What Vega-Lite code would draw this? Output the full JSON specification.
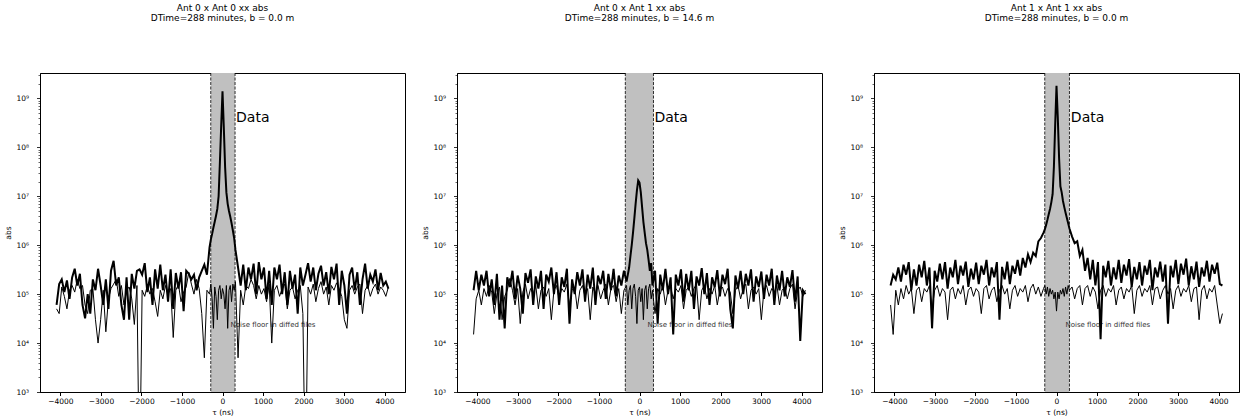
{
"$schema": "https://vega.github.io/schema/vega-lite/v6.json",
"background": "white",
"padding": {"left": 4, "top": 3, "right": 2, "bottom": 2},
"bounds": "flush",
"spacing": 52,
"config": {
  "view": {"stroke": "black", "strokeWidth": 1},
  "font": "DejaVu Sans",
  "axis": {"domainColor": "black", "tickColor": "black", "labelColor": "black", "titleColor": "black", "labelFontSize": 7.5, "titleFontSize": 7.5, "titleFontWeight": "normal", "grid": false, "labelFont": "DejaVu Sans", "titleFont": "DejaVu Sans", "tickSize": 3.5},
  "axisX": {"labelPadding": 2, "titlePadding": 3},
  "axisY": {"labelPadding": 8, "titlePadding": 3},
  "title": {"fontSize": 9, "fontWeight": "normal", "font": "DejaVu Sans", "anchor": "middle", "offset": 50, "lineHeight": 10, "color": "black"}
},
"datasets": {
"p1": [
{"t":-4096,"d":6e4,"n":5e4},{"t":-4032,"d":1.6e5,"n":4e4},{"t":-3968,"d":2e5,"n":1.4e5},{"t":-3904,"d":1.1e5,"n":9e4},{"t":-3840,"d":1.9e5,"n":5e4},{"t":-3776,"d":8e4,"n":1.2e5},{"t":-3712,"d":2.2e5,"n":1.5e5},{"t":-3648,"d":3.3e5,"n":1.1e5},{"t":-3584,"d":1.5e5,"n":2e5},{"t":-3520,"d":2.6e5,"n":1.3e5},{"t":-3456,"d":6e4,"n":1.5e5},{"t":-3392,"d":3.2e4,"n":6e4},{"t":-3328,"d":1e5,"n":4e4},{"t":-3264,"d":4e4,"n":1.2e5},{"t":-3200,"d":2e5,"n":1.3e5},{"t":-3136,"d":1.2e5,"n":3e4},{"t":-3072,"d":3.3e5,"n":1e4},{"t":-3008,"d":1.5e5,"n":3e4},{"t":-2944,"d":6e4,"n":1.2e5},{"t":-2880,"d":2e5,"n":1.7e4},{"t":-2816,"d":5e4,"n":8e4},{"t":-2752,"d":3e5,"n":1.3e5},{"t":-2688,"d":4.8e5,"n":1.6e5},{"t":-2624,"d":1.5e5,"n":2e5},{"t":-2560,"d":2.2e5,"n":9e4},{"t":-2496,"d":6e4,"n":1.5e5},{"t":-2432,"d":3e4,"n":6e4},{"t":-2368,"d":2.2e5,"n":1.2e5},{"t":-2304,"d":3e4,"n":1.4e5},{"t":-2240,"d":2.6e5,"n":8e4},{"t":-2176,"d":1.3e5,"n":2.4e4},{"t":-2112,"d":3e5,"n":1.5e5},{"t":-2048,"d":3.2e5,"n":10},{"t":-1984,"d":2.5e5,"n":1.2e5},{"t":-1920,"d":4.3e5,"n":9e4},{"t":-1856,"d":1.1e5,"n":1.5e5},{"t":-1792,"d":2.2e5,"n":1e5},{"t":-1728,"d":6e4,"n":1.3e5},{"t":-1664,"d":3.2e5,"n":7e4},{"t":-1600,"d":1.3e5,"n":3.5e4},{"t":-1536,"d":4e5,"n":1.2e5},{"t":-1472,"d":1.2e5,"n":8e4},{"t":-1408,"d":2.5e5,"n":1.5e5},{"t":-1344,"d":7e4,"n":1e5},{"t":-1280,"d":3.2e5,"n":1.3e5},{"t":-1216,"d":5e4,"n":1.3e4},{"t":-1152,"d":2.7e5,"n":1.2e5},{"t":-1088,"d":1.3e5,"n":1.6e5},{"t":-1024,"d":2.8e5,"n":7e4},{"t":-960,"d":4.5e4,"n":1.1e5},{"t":-896,"d":3e5,"n":1.4e5},{"t":-832,"d":2.6e5,"n":2.8e5},{"t":-768,"d":2e5,"n":1.6e5},{"t":-704,"d":2.5e5,"n":1e5},{"t":-640,"d":1.2e5,"n":2e5},{"t":-576,"d":2.2e5,"n":1.3e5},{"t":-512,"d":3e5,"n":4e4},{"t":-448,"d":4e5,"n":5e3},{"t":-384,"d":2.5e5,"n":1.2e5},
{"t":-320,"d":9e5,"n":1e5},{"t":-288,"d":1.3e6,"n":1.6e5},{"t":-256,"d":1.7e6,"n":8e4},{"t":-224,"d":2.3e6,"n":2e4},{"t":-192,"d":3e6,"n":1.4e5},{"t":-160,"d":4e6,"n":9e4},{"t":-128,"d":5.5e6,"n":3e4},{"t":-96,"d":1e7,"n":1.2e5},{"t":-64,"d":5e7,"n":1.5e5},{"t":-32,"d":2.8e8,"n":8e4},{"t":0,"d":1.4e9,"n":1.3e5},{"t":32,"d":2.6e8,"n":1e5},{"t":64,"d":4e7,"n":5e4},{"t":96,"d":1.2e7,"n":1.5e5},{"t":128,"d":7e6,"n":2e4},{"t":160,"d":5e6,"n":1.2e5},{"t":192,"d":3.8e6,"n":1.5e5},{"t":224,"d":2.8e6,"n":7e4},{"t":256,"d":2e6,"n":1.6e5},{"t":288,"d":1.4e6,"n":1.2e5},{"t":320,"d":8e5,"n":1.8e5},
{"t":384,"d":3.5e5,"n":5e3},{"t":448,"d":1.5e5,"n":1.2e5},{"t":512,"d":4e5,"n":6e4},{"t":576,"d":1.2e5,"n":1.5e5},{"t":640,"d":3.5e5,"n":1.3e5},{"t":704,"d":2e5,"n":2e5},{"t":768,"d":4.2e5,"n":1.5e5},{"t":832,"d":1e5,"n":8e4},{"t":896,"d":4.5e5,"n":1.5e5},{"t":960,"d":2e5,"n":1e5},{"t":1024,"d":3.5e5,"n":1.3e5},{"t":1088,"d":8e4,"n":7e4},{"t":1152,"d":3e5,"n":1.6e5},{"t":1216,"d":6e4,"n":1e4},{"t":1280,"d":3.5e5,"n":1.2e5},{"t":1344,"d":2e5,"n":1.5e5},{"t":1408,"d":4e5,"n":9e4},{"t":1472,"d":1e5,"n":1.3e5},{"t":1536,"d":2.8e5,"n":1.6e5},{"t":1600,"d":6e4,"n":5e4},{"t":1664,"d":3e5,"n":1.2e5},{"t":1728,"d":1.3e5,"n":1.4e5},{"t":1792,"d":2.5e5,"n":8e4},{"t":1856,"d":4e4,"n":1.2e5},{"t":1920,"d":3.5e5,"n":1.5e5},{"t":1984,"d":1.5e5,"n":4e4},{"t":2048,"d":2.5e5,"n":10},{"t":2112,"d":4.3e5,"n":1.4e5},{"t":2176,"d":1.8e5,"n":1e5},{"t":2240,"d":3.5e5,"n":1.6e5},{"t":2304,"d":1.2e5,"n":7e4},{"t":2368,"d":2.6e5,"n":1.3e5},{"t":2432,"d":3.8e5,"n":1.8e5},{"t":2496,"d":1.5e5,"n":1e5},{"t":2560,"d":2.8e5,"n":1.4e5},{"t":2624,"d":1e5,"n":6e4},{"t":2688,"d":3.6e5,"n":1.5e5},{"t":2752,"d":2e5,"n":1.2e5},{"t":2816,"d":4.2e5,"n":1.7e5},{"t":2880,"d":6e4,"n":1.3e5},{"t":2944,"d":3e5,"n":9e4},{"t":3008,"d":1.5e5,"n":3e4},{"t":3072,"d":4e4,"n":2e4},{"t":3136,"d":2.5e5,"n":1.2e5},{"t":3200,"d":3.5e5,"n":1.5e5},{"t":3264,"d":1.2e5,"n":1e5},{"t":3328,"d":2.8e5,"n":1.4e5},{"t":3392,"d":6e4,"n":1.6e5},{"t":3456,"d":2e5,"n":4e4},{"t":3520,"d":4.2e5,"n":1.2e5},{"t":3584,"d":1.3e5,"n":1.5e5},{"t":3648,"d":2.5e5,"n":9e4},{"t":3712,"d":1.8e5,"n":1.3e5},{"t":3776,"d":3.2e5,"n":1.6e5},{"t":3840,"d":1.2e5,"n":1e5},{"t":3904,"d":2.7e5,"n":1.4e5},{"t":3968,"d":1.5e5,"n":1.2e5},{"t":4032,"d":1.8e5,"n":9e4},{"t":4096,"d":1.3e5,"n":1.4e5}
],
"p2": [
{"t":-4096,"d":1.2e5,"n":1.5e4},{"t":-4032,"d":3e5,"n":8e4},{"t":-3968,"d":1.2e5,"n":1.2e5},{"t":-3904,"d":2.5e5,"n":6e4},{"t":-3840,"d":1.5e5,"n":1.3e5},{"t":-3776,"d":3e5,"n":9e4},{"t":-3712,"d":9e4,"n":1.5e5},{"t":-3648,"d":2e5,"n":1.1e5},{"t":-3584,"d":6e4,"n":4e4},{"t":-3520,"d":2.6e5,"n":1e5},{"t":-3456,"d":3e4,"n":1.4e5},{"t":-3392,"d":1.5e5,"n":3e4},{"t":-3328,"d":2e4,"n":9e4},{"t":-3264,"d":2.2e5,"n":1.2e5},{"t":-3200,"d":1.4e5,"n":2.1e5},{"t":-3136,"d":3e5,"n":1.2e5},{"t":-3072,"d":8e4,"n":6e4},{"t":-3008,"d":2.4e5,"n":1.3e5},{"t":-2944,"d":1.3e5,"n":2.5e4},{"t":-2880,"d":4e4,"n":1.1e5},{"t":-2816,"d":2.7e5,"n":1.6e5},{"t":-2752,"d":1.7e5,"n":8e4},{"t":-2688,"d":3.2e5,"n":1.3e5},{"t":-2624,"d":6e4,"n":1e5},{"t":-2560,"d":2.3e5,"n":1.5e5},{"t":-2496,"d":1.3e5,"n":5e4},{"t":-2432,"d":3e5,"n":1.2e5},{"t":-2368,"d":5e4,"n":1.4e5},{"t":-2304,"d":2.5e5,"n":9e4},{"t":-2240,"d":1.8e5,"n":1.3e5},{"t":-2176,"d":3.5e5,"n":3e4},{"t":-2112,"d":1e5,"n":1.2e5},{"t":-2048,"d":2.8e5,"n":1.5e5},{"t":-1984,"d":6e4,"n":8e4},{"t":-1920,"d":2.2e5,"n":1.3e5},{"t":-1856,"d":1.4e5,"n":1.1e5},{"t":-1792,"d":3.3e5,"n":1.6e5},{"t":-1728,"d":2.5e4,"n":6e4},{"t":-1664,"d":2e5,"n":1.2e5},{"t":-1600,"d":1e5,"n":1.4e5},{"t":-1536,"d":2.8e5,"n":5e4},{"t":-1472,"d":1.5e5,"n":1.2e5},{"t":-1408,"d":3.2e5,"n":1.5e5},{"t":-1344,"d":7e4,"n":9e4},{"t":-1280,"d":2.5e5,"n":1.3e5},{"t":-1216,"d":1.3e5,"n":3e4},{"t":-1152,"d":3.5e5,"n":1.4e5},{"t":-1088,"d":6e4,"n":1e5},{"t":-1024,"d":2.4e5,"n":1.5e5},{"t":-960,"d":1.6e5,"n":8e4},{"t":-896,"d":3e5,"n":1.2e5},{"t":-832,"d":8e4,"n":1.6e5},{"t":-768,"d":2.6e5,"n":6e4},{"t":-704,"d":1.2e5,"n":1.3e5},{"t":-640,"d":3.3e5,"n":1.5e5},{"t":-576,"d":9e4,"n":7e4},{"t":-512,"d":2.4e5,"n":1.3e5},{"t":-448,"d":1.5e5,"n":4e4},{"t":-384,"d":3e5,"n":1.2e5},
{"t":-320,"d":1.8e5,"n":1.5e5},{"t":-288,"d":2.5e5,"n":6e4},{"t":-256,"d":3.5e5,"n":1.2e5},{"t":-224,"d":6e5,"n":1.5e5},{"t":-192,"d":1e6,"n":5e4},{"t":-160,"d":1.8e6,"n":1.3e5},{"t":-128,"d":3.5e6,"n":1.6e5},{"t":-96,"d":7e6,"n":9e4},{"t":-64,"d":1.3e7,"n":2.5e4},{"t":-32,"d":2.1e7,"n":1.2e5},{"t":0,"d":1.9e7,"n":1.4e5},{"t":32,"d":1.2e7,"n":7e4},{"t":64,"d":6e6,"n":1.3e5},{"t":96,"d":3e6,"n":3e4},{"t":128,"d":1.8e6,"n":1.2e5},{"t":160,"d":1.1e6,"n":1.5e5},{"t":192,"d":8e5,"n":5e4},{"t":224,"d":5e5,"n":1.3e5},{"t":256,"d":3e5,"n":1.6e5},{"t":288,"d":4.3e5,"n":8e4},{"t":320,"d":1.5e5,"n":1.2e5},
{"t":384,"d":3e5,"n":4e4},{"t":448,"d":2.5e4,"n":1.3e5},{"t":512,"d":2.5e5,"n":1e5},{"t":576,"d":1.2e5,"n":1.5e5},{"t":640,"d":3.3e5,"n":6e4},{"t":704,"d":1e5,"n":1.2e5},{"t":768,"d":2.2e5,"n":1.4e5},{"t":832,"d":1.5e4,"n":8e4},{"t":896,"d":2.5e5,"n":1.3e5},{"t":960,"d":1.5e5,"n":1.1e5},{"t":1024,"d":3.2e5,"n":1.5e5},{"t":1088,"d":7e4,"n":5e4},{"t":1152,"d":2.6e5,"n":1.2e5},{"t":1216,"d":1.2e5,"n":1.4e5},{"t":1280,"d":3e5,"n":9e4},{"t":1344,"d":5e4,"n":1.3e5},{"t":1408,"d":2.3e5,"n":1.6e5},{"t":1472,"d":1.5e5,"n":3e4},{"t":1536,"d":3.4e5,"n":1.2e5},{"t":1600,"d":1e5,"n":1.5e5},{"t":1664,"d":2.7e5,"n":8e4},{"t":1728,"d":6e4,"n":1.3e5},{"t":1792,"d":2.2e5,"n":1e5},{"t":1856,"d":1.4e5,"n":1.5e5},{"t":1920,"d":3.1e5,"n":6e4},{"t":1984,"d":9e4,"n":1.2e5},{"t":2048,"d":2.5e5,"n":1.4e5},{"t":2112,"d":1.6e5,"n":9e4},{"t":2176,"d":3.3e5,"n":1.3e5},{"t":2240,"d":5e4,"n":1.1e5},{"t":2304,"d":2e4,"n":4e4},{"t":2368,"d":2.4e5,"n":1.2e5},{"t":2432,"d":1.3e5,"n":1.5e5},{"t":2496,"d":3e5,"n":8e4},{"t":2560,"d":1e5,"n":1.3e5},{"t":2624,"d":2.6e5,"n":1.6e5},{"t":2688,"d":1.5e5,"n":5e4},{"t":2752,"d":3.2e5,"n":1.2e5},{"t":2816,"d":7e4,"n":1.4e5},{"t":2880,"d":2.3e5,"n":1e5},{"t":2944,"d":1.4e5,"n":1.3e5},{"t":3008,"d":2.9e5,"n":3e4},{"t":3072,"d":8e4,"n":1.2e5},{"t":3136,"d":2.5e5,"n":1.5e5},{"t":3200,"d":1.5e5,"n":9e4},{"t":3264,"d":3.3e5,"n":1.3e5},{"t":3328,"d":6e4,"n":1.1e5},{"t":3392,"d":2.4e5,"n":1.5e5},{"t":3456,"d":1.2e5,"n":6e4},{"t":3520,"d":3e5,"n":1.2e5},{"t":3584,"d":9e4,"n":1.4e5},{"t":3648,"d":2.2e5,"n":8e4},{"t":3712,"d":1.4e5,"n":1.3e5},{"t":3776,"d":3.1e5,"n":1.6e5},{"t":3840,"d":7e4,"n":5e4},{"t":3904,"d":2.3e5,"n":1.2e5},{"t":3968,"d":1.1e4,"n":1.4e5},{"t":4032,"d":1.2e5,"n":9e4},{"t":4096,"d":1e5,"n":1.2e5}
],
"p3": [
{"t":-4096,"d":1.5e5,"n":6e4},{"t":-4032,"d":2.5e5,"n":1.5e4},{"t":-3968,"d":2e5,"n":1.2e5},{"t":-3904,"d":3.5e5,"n":6e4},{"t":-3840,"d":1.8e5,"n":1.3e5},{"t":-3776,"d":4e5,"n":8e4},{"t":-3712,"d":2.5e5,"n":1.5e5},{"t":-3648,"d":4.5e5,"n":1e5},{"t":-3584,"d":1.2e5,"n":1.3e5},{"t":-3520,"d":3.2e5,"n":4e4},{"t":-3456,"d":1.5e5,"n":1.2e5},{"t":-3392,"d":4e5,"n":1.4e5},{"t":-3328,"d":2.2e5,"n":7e4},{"t":-3264,"d":4.8e5,"n":1.3e5},{"t":-3200,"d":1.5e5,"n":1.1e5},{"t":-3136,"d":3.5e5,"n":1.5e5},{"t":-3072,"d":2e4,"n":5e4},{"t":-3008,"d":3e5,"n":1.2e5},{"t":-2944,"d":1.8e5,"n":1.5e5},{"t":-2880,"d":4.2e5,"n":9e4},{"t":-2816,"d":2e5,"n":1.3e5},{"t":-2752,"d":4.5e5,"n":1.1e5},{"t":-2688,"d":1.3e5,"n":3e4},{"t":-2624,"d":3.5e5,"n":1.2e5},{"t":-2560,"d":2.2e5,"n":1.4e5},{"t":-2496,"d":5e5,"n":8e4},{"t":-2432,"d":1.6e5,"n":1.3e5},{"t":-2368,"d":3.8e5,"n":1e5},{"t":-2304,"d":2.4e5,"n":1.5e5},{"t":-2240,"d":4.6e5,"n":6e4},{"t":-2176,"d":1.4e5,"n":1.2e5},{"t":-2112,"d":3.3e5,"n":1.4e5},{"t":-2048,"d":2e5,"n":9e4},{"t":-1984,"d":4.4e5,"n":1.3e5},{"t":-1920,"d":1.6e5,"n":1.1e5},{"t":-1856,"d":3.8e5,"n":4e4},{"t":-1792,"d":2.5e5,"n":1.3e5},{"t":-1728,"d":5e5,"n":1.5e5},{"t":-1664,"d":1.5e5,"n":8e4},{"t":-1600,"d":3.5e5,"n":1.2e5},{"t":-1536,"d":2.2e5,"n":1.4e5},{"t":-1472,"d":4.5e5,"n":7e4},{"t":-1408,"d":3e4,"n":1.2e5},{"t":-1344,"d":3.6e5,"n":1.5e5},{"t":-1280,"d":2e5,"n":1e5},{"t":-1216,"d":4.6e5,"n":1.3e5},{"t":-1152,"d":1.6e5,"n":5e4},{"t":-1088,"d":3.8e5,"n":1.2e5},{"t":-1024,"d":2.6e5,"n":1.5e5},{"t":-960,"d":5e5,"n":9e4},{"t":-896,"d":2.4e5,"n":1.3e5},{"t":-832,"d":5.5e5,"n":1.1e5},{"t":-768,"d":3.5e5,"n":1.5e5},{"t":-704,"d":6.5e5,"n":7e4},{"t":-640,"d":4.5e5,"n":1.3e5},{"t":-576,"d":7e5,"n":1.6e5},{"t":-512,"d":6e5,"n":1e5},{"t":-448,"d":1.2e6,"n":1.4e5},{"t":-384,"d":1.4e6,"n":9e4},
{"t":-320,"d":1.8e6,"n":1.3e5},{"t":-288,"d":2.1e6,"n":1.5e5},{"t":-256,"d":2.6e6,"n":1e5},{"t":-224,"d":3.3e6,"n":1.4e5},{"t":-192,"d":4.3e6,"n":9e4},{"t":-160,"d":5.5e6,"n":1.3e5},{"t":-128,"d":7.5e6,"n":1e5},{"t":-96,"d":1.1e7,"n":1.2e5},{"t":-64,"d":4e7,"n":8e4},{"t":-32,"d":3e8,"n":1.1e5},{"t":0,"d":1.8e9,"n":4.5e4},{"t":32,"d":4e8,"n":1.1e5},{"t":64,"d":6e7,"n":8e4},{"t":96,"d":1.6e7,"n":1.2e5},{"t":128,"d":1.2e7,"n":1e5},{"t":160,"d":8e6,"n":1.3e5},{"t":192,"d":6e6,"n":9e4},{"t":224,"d":4.6e6,"n":1.4e5},{"t":256,"d":3.6e6,"n":1e5},{"t":288,"d":2.8e6,"n":1.5e5},{"t":320,"d":2.2e6,"n":1.2e5},
{"t":384,"d":1.5e6,"n":1.4e5},{"t":448,"d":1.1e6,"n":8e4},{"t":512,"d":1.2e6,"n":1.3e5},{"t":576,"d":6e5,"n":1.5e5},{"t":640,"d":8e5,"n":6e4},{"t":704,"d":3e5,"n":1.3e5},{"t":768,"d":5.5e5,"n":1.5e5},{"t":832,"d":2e5,"n":9e4},{"t":896,"d":5e5,"n":1.4e5},{"t":960,"d":1.5e5,"n":1.1e5},{"t":1024,"d":4.5e5,"n":5e4},{"t":1088,"d":1.2e4,"n":1.2e5},{"t":1152,"d":3.8e5,"n":1.5e5},{"t":1216,"d":2.2e5,"n":9e4},{"t":1280,"d":4.8e5,"n":1.3e5},{"t":1344,"d":1.5e5,"n":1.1e5},{"t":1408,"d":3.5e5,"n":1.5e5},{"t":1472,"d":2e5,"n":6e4},{"t":1536,"d":5e5,"n":1.2e5},{"t":1600,"d":1.7e5,"n":1.4e5},{"t":1664,"d":4e5,"n":8e4},{"t":1728,"d":2.4e5,"n":1.3e5},{"t":1792,"d":5.2e5,"n":1.1e5},{"t":1856,"d":1.4e5,"n":1.5e5},{"t":1920,"d":3.6e5,"n":4e4},{"t":1984,"d":2e5,"n":1.2e5},{"t":2048,"d":4.5e5,"n":1.5e5},{"t":2112,"d":1.5e5,"n":9e4},{"t":2176,"d":3.8e5,"n":1.3e5},{"t":2240,"d":2.5e5,"n":1.1e5},{"t":2304,"d":5e5,"n":1.5e5},{"t":2368,"d":1.2e5,"n":6e4},{"t":2432,"d":3.5e5,"n":1.3e5},{"t":2496,"d":2.2e5,"n":1.4e5},{"t":2560,"d":4.6e5,"n":8e4},{"t":2624,"d":1.8e5,"n":1.2e5},{"t":2688,"d":4e5,"n":1.5e5},{"t":2752,"d":2.5e4,"n":1e5},{"t":2816,"d":3.8e5,"n":1.3e5},{"t":2880,"d":2.2e5,"n":5e4},{"t":2944,"d":5e5,"n":1.2e5},{"t":3008,"d":1.6e5,"n":1.5e5},{"t":3072,"d":4.2e5,"n":9e4},{"t":3136,"d":2.5e5,"n":1.3e5},{"t":3200,"d":5.3e5,"n":1.1e5},{"t":3264,"d":1.5e5,"n":1.5e5},{"t":3328,"d":3.7e5,"n":7e4},{"t":3392,"d":2e5,"n":1.3e5},{"t":3456,"d":4.6e5,"n":1.4e5},{"t":3520,"d":1.4e5,"n":3e4},{"t":3584,"d":3.5e5,"n":1.2e5},{"t":3648,"d":2.3e5,"n":1.5e5},{"t":3712,"d":4.8e5,"n":8e4},{"t":3776,"d":1.8e5,"n":1.3e5},{"t":3840,"d":4e5,"n":1.1e5},{"t":3904,"d":2.6e5,"n":1.5e5},{"t":3968,"d":4.4e5,"n":6e4},{"t":4032,"d":1.6e5,"n":2.5e4},{"t":4096,"d":1.5e5,"n":4e4}
]
},
"hconcat": [
{
"width": 365, "height": 319,
"title": {"text": ["Ant 0 x Ant 0 xx abs", "DTime=288 minutes, b = 0.0 m"]},
"layer": [
{"data": {"values": [{"a": -290, "b": 310}]}, "mark": {"type": "rect", "color": "#c0c0c0"}, "encoding": {"x": {"field": "a", "type": "quantitative"}, "x2": {"field": "b"}}},
{"data": {"values": [{"a": -290}, {"a": 310}]}, "mark": {"type": "rule", "color": "black", "strokeWidth": 0.8, "strokeDash": [3, 1.5]}, "encoding": {"x": {"field": "a", "type": "quantitative"}}},
{"data": {"values": [{"x": 200, "y": 23000, "label": "Noise floor in diffed files"}]}, "mark": {"type": "text", "align": "left", "baseline": "middle", "fontSize": 7, "color": "#333333"}, "encoding": {"x": {"field": "x", "type": "quantitative"}, "y": {"field": "y", "type": "quantitative"}, "text": {"field": "label"}}},
{"data": {"name": "p1"}, "mark": {"type": "line", "color": "black", "strokeWidth": 1, "clip": true}, "encoding": {
  "x": {"field": "t", "type": "quantitative", "scale": {"domain": [-4505, 4505], "nice": false, "zero": false}, "axis": {"title": "τ (ns)", "values": [-4000, -3000, -2000, -1000, 0, 1000, 2000, 3000, 4000], "format": "d"}},
  "y": {"field": "n", "type": "quantitative", "scale": {"type": "log", "domain": [1000, 3.3e9], "nice": false}, "axis": {"title": "abs", "values": [1000,2000,3000,4000,5000,6000,7000,8000,9000,10000,20000,30000,40000,50000,60000,70000,80000,90000,100000,200000,300000,400000,500000,600000,700000,800000,900000,1e6,2e6,3e6,4e6,5e6,6e6,7e6,8e6,9e6,1e7,2e7,3e7,4e7,5e7,6e7,7e7,8e7,9e7,1e8,2e8,3e8,4e8,5e8,6e8,7e8,8e8,9e8,1e9,2e9,3e9], "labelExpr": "abs(log(datum.value)/LN10 - round(log(datum.value)/LN10)) < 0.001 ? '10' + substring('⁰¹²³⁴⁵⁶⁷⁸⁹', round(log(datum.value)/LN10), round(log(datum.value)/LN10) + 1) : ''", "tickSize": {"condition": {"test": "abs(log(datum.value)/LN10 - round(log(datum.value)/LN10)) < 0.001", "value": 3.5}, "value": 2}, "tickWidth": {"condition": {"test": "abs(log(datum.value)/LN10 - round(log(datum.value)/LN10)) < 0.001", "value": 0.8}, "value": 0.6}}}
}},
{"data": {"name": "p1"}, "mark": {"type": "line", "color": "black", "strokeWidth": 2, "clip": true}, "encoding": {"x": {"field": "t", "type": "quantitative"}, "y": {"field": "d", "type": "quantitative"}}},
{"data": {"values": [{"x": 310, "y": 4e8, "label": "Data"}]}, "mark": {"type": "text", "align": "left", "baseline": "middle", "fontSize": 14, "dx": 1, "color": "black"}, "encoding": {"x": {"field": "x", "type": "quantitative"}, "y": {"field": "y", "type": "quantitative"}, "text": {"field": "label"}}}
]
},
{
"width": 365, "height": 319,
"title": {"text": ["Ant 0 x Ant 1 xx abs", "DTime=288 minutes, b = 14.6 m"]},
"layer": [
{"data": {"values": [{"a": -350, "b": 345}]}, "mark": {"type": "rect", "color": "#c0c0c0"}, "encoding": {"x": {"field": "a", "type": "quantitative"}, "x2": {"field": "b"}}},
{"data": {"values": [{"a": -350}, {"a": 345}]}, "mark": {"type": "rule", "color": "black", "strokeWidth": 0.8, "strokeDash": [3, 1.5]}, "encoding": {"x": {"field": "a", "type": "quantitative"}}},
{"data": {"values": [{"x": 200, "y": 23000, "label": "Noise floor in diffed files"}]}, "mark": {"type": "text", "align": "left", "baseline": "middle", "fontSize": 7, "color": "#333333"}, "encoding": {"x": {"field": "x", "type": "quantitative"}, "y": {"field": "y", "type": "quantitative"}, "text": {"field": "label"}}},
{"data": {"name": "p2"}, "mark": {"type": "line", "color": "black", "strokeWidth": 1, "clip": true}, "encoding": {
  "x": {"field": "t", "type": "quantitative", "scale": {"domain": [-4505, 4505], "nice": false, "zero": false}, "axis": {"title": "τ (ns)", "values": [-4000, -3000, -2000, -1000, 0, 1000, 2000, 3000, 4000], "format": "d"}},
  "y": {"field": "n", "type": "quantitative", "scale": {"type": "log", "domain": [1000, 3.3e9], "nice": false}, "axis": {"title": "abs", "values": [1000,2000,3000,4000,5000,6000,7000,8000,9000,10000,20000,30000,40000,50000,60000,70000,80000,90000,100000,200000,300000,400000,500000,600000,700000,800000,900000,1e6,2e6,3e6,4e6,5e6,6e6,7e6,8e6,9e6,1e7,2e7,3e7,4e7,5e7,6e7,7e7,8e7,9e7,1e8,2e8,3e8,4e8,5e8,6e8,7e8,8e8,9e8,1e9,2e9,3e9], "labelExpr": "abs(log(datum.value)/LN10 - round(log(datum.value)/LN10)) < 0.001 ? '10' + substring('⁰¹²³⁴⁵⁶⁷⁸⁹', round(log(datum.value)/LN10), round(log(datum.value)/LN10) + 1) : ''", "tickSize": {"condition": {"test": "abs(log(datum.value)/LN10 - round(log(datum.value)/LN10)) < 0.001", "value": 3.5}, "value": 2}, "tickWidth": {"condition": {"test": "abs(log(datum.value)/LN10 - round(log(datum.value)/LN10)) < 0.001", "value": 0.8}, "value": 0.6}}}
}},
{"data": {"name": "p2"}, "mark": {"type": "line", "color": "black", "strokeWidth": 2, "clip": true}, "encoding": {"x": {"field": "t", "type": "quantitative"}, "y": {"field": "d", "type": "quantitative"}}},
{"data": {"values": [{"x": 345, "y": 4e8, "label": "Data"}]}, "mark": {"type": "text", "align": "left", "baseline": "middle", "fontSize": 14, "dx": 1, "color": "black"}, "encoding": {"x": {"field": "x", "type": "quantitative"}, "y": {"field": "y", "type": "quantitative"}, "text": {"field": "label"}}}
]
},
{
"width": 365, "height": 319,
"title": {"text": ["Ant 1 x Ant 1 xx abs", "DTime=288 minutes, b = 0.0 m"]},
"layer": [
{"data": {"values": [{"a": -290, "b": 320}]}, "mark": {"type": "rect", "color": "#c0c0c0"}, "encoding": {"x": {"field": "a", "type": "quantitative"}, "x2": {"field": "b"}}},
{"data": {"values": [{"a": -290}, {"a": 320}]}, "mark": {"type": "rule", "color": "black", "strokeWidth": 0.8, "strokeDash": [3, 1.5]}, "encoding": {"x": {"field": "a", "type": "quantitative"}}},
{"data": {"values": [{"x": 220, "y": 23000, "label": "Noise floor in diffed files"}]}, "mark": {"type": "text", "align": "left", "baseline": "middle", "fontSize": 7, "color": "#333333"}, "encoding": {"x": {"field": "x", "type": "quantitative"}, "y": {"field": "y", "type": "quantitative"}, "text": {"field": "label"}}},
{"data": {"name": "p3"}, "mark": {"type": "line", "color": "black", "strokeWidth": 1, "clip": true}, "encoding": {
  "x": {"field": "t", "type": "quantitative", "scale": {"domain": [-4505, 4505], "nice": false, "zero": false}, "axis": {"title": "τ (ns)", "values": [-4000, -3000, -2000, -1000, 0, 1000, 2000, 3000, 4000], "format": "d"}},
  "y": {"field": "n", "type": "quantitative", "scale": {"type": "log", "domain": [1000, 3.3e9], "nice": false}, "axis": {"title": "abs", "values": [1000,2000,3000,4000,5000,6000,7000,8000,9000,10000,20000,30000,40000,50000,60000,70000,80000,90000,100000,200000,300000,400000,500000,600000,700000,800000,900000,1e6,2e6,3e6,4e6,5e6,6e6,7e6,8e6,9e6,1e7,2e7,3e7,4e7,5e7,6e7,7e7,8e7,9e7,1e8,2e8,3e8,4e8,5e8,6e8,7e8,8e8,9e8,1e9,2e9,3e9], "labelExpr": "abs(log(datum.value)/LN10 - round(log(datum.value)/LN10)) < 0.001 ? '10' + substring('⁰¹²³⁴⁵⁶⁷⁸⁹', round(log(datum.value)/LN10), round(log(datum.value)/LN10) + 1) : ''", "tickSize": {"condition": {"test": "abs(log(datum.value)/LN10 - round(log(datum.value)/LN10)) < 0.001", "value": 3.5}, "value": 2}, "tickWidth": {"condition": {"test": "abs(log(datum.value)/LN10 - round(log(datum.value)/LN10)) < 0.001", "value": 0.8}, "value": 0.6}}}
}},
{"data": {"name": "p3"}, "mark": {"type": "line", "color": "black", "strokeWidth": 2, "clip": true}, "encoding": {"x": {"field": "t", "type": "quantitative"}, "y": {"field": "d", "type": "quantitative"}}},
{"data": {"values": [{"x": 330, "y": 4e8, "label": "Data"}]}, "mark": {"type": "text", "align": "left", "baseline": "middle", "fontSize": 14, "dx": 1, "color": "black"}, "encoding": {"x": {"field": "x", "type": "quantitative"}, "y": {"field": "y", "type": "quantitative"}, "text": {"field": "label"}}}
]
}
]
}
